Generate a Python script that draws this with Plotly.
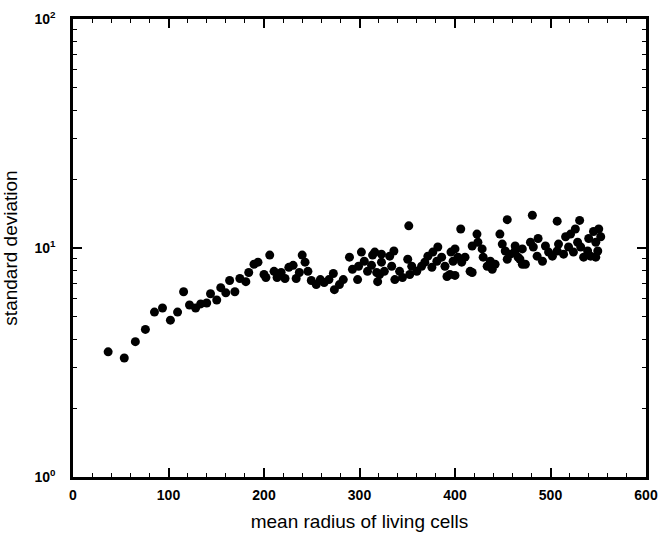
import plotly.graph_objects as go

# mean radius of living cells (x) and standard deviation (y)
radius = [
    36.8, 53.7, 65.3, 75.8, 85.3, 93.7, 102, 109.5, 115.8, 122, 128.4, 133.7, 140, 144, 150.5,
    154.7, 160, 164, 169.5, 174.7,
    181, 184, 189.5, 193.7, 200, 202, 206, 210.5, 213.7, 218, 222, 226, 230.5, 233.7, 237, 240,
    243, 246, 249.5, 254.7, 259, 263, 268, 272.6, 273.7, 279, 283, 289.5, 292.6, 298, 299, 302,
    305, 308.4, 313.7, 312.6, 318, 323, 319,
    351.6, 406, 454.7, 316, 323, 326, 321, 331.6, 336, 333.7, 337, 342, 345, 350.5, 354.7, 352.6,
    360, 365, 368.4, 371.6, 376.8, 382, 375.8, 381, 386, 389.5, 391.6, 395.8, 400, 398, 403, 407,
    410.5, 415.8, 418, 400, 394.7, 418, 423, 424, 428.4, 429.5, 433.7, 439, 437, 442, 447, 449.5,
    452.6, 454.7, 458, 463, 466, 470.5, 470.5,
    481, 507, 530.5, 463, 468, 473.7, 479, 482, 487, 486, 491.6, 494.7, 498, 502, 507, 508.4,
    513.7, 515.8, 518.9, 521, 524, 526, 528.4, 531.6, 534.7, 538.9, 540, 542, 545, 547.4, 549.5,
    550.5, 552.6, 547.4,
]
std_dev = [
    3.52, 3.31, 3.90, 4.41, 5.25, 5.47, 4.84, 5.25, 6.44, 5.64, 5.47, 5.70, 5.75, 6.31, 5.93,
    6.71, 6.37, 7.21, 6.44, 7.36,
    7.13, 7.82, 8.49, 8.67, 7.66, 7.43, 9.31, 7.91, 7.43, 7.82, 7.36, 8.23, 8.40, 7.36, 7.82, 9.31,
    8.67, 7.91, 7.21, 6.92, 7.28, 7.06, 7.28, 7.74, 6.58, 6.92, 7.28, 9.12, 8.07, 7.28, 8.32, 9.60,
    8.75, 7.91, 9.31, 8.40, 7.82, 9.40, 7.13,
    12.5, 12.1, 13.3, 9.60, 8.67, 7.91, 7.66, 9.21, 9.70, 8.32, 7.28, 7.91, 7.43, 8.93, 8.32, 7.66,
    7.91, 8.32, 8.67, 9.21, 9.60, 10.1, 8.24, 8.75, 9.12, 8.32, 7.51, 9.60, 9.91, 8.75, 9.12, 8.67,
    9.12, 7.91, 7.82, 7.59, 7.66, 10.2, 11.5, 10.6, 9.91, 9.12, 8.32, 8.07, 8.75, 8.49, 11.5, 10.4,
    9.70, 8.93, 9.40, 10.2, 9.12, 8.49, 9.91,
    13.9, 13.1, 13.2, 9.70, 8.93, 8.49, 10.6, 10.1, 11.0, 9.21, 8.75, 10.2, 9.60, 9.21, 9.70, 10.4,
    9.40, 11.2, 10.1, 11.5, 9.60, 12.1, 10.6, 10.1, 9.12, 9.70, 11.0, 9.21, 11.8, 10.6, 9.70,
    12.1, 11.2, 9.12,
]

x_ticks = [0, 100, 200, 300, 400, 500, 600]
y_ticks = [1, 10, 100]
y_tick_labels = ["10<sup>0</sup>", "10<sup>1</sup>", "10<sup>2</sup>"]
y_minor = [2, 3, 4, 5, 6, 7, 8, 9, 20, 30, 40, 50, 60, 70, 80, 90]

fig = go.Figure(
    go.Scatter(
        x=radius, y=std_dev, mode="markers",
        marker=dict(color="black", size=9, line=dict(width=0)),
        showlegend=False,
    )
)

font = dict(family="Liberation Sans, Arial, sans-serif", color="#000000")

fig.update_layout(
    template="none",
    width=658, height=537,
    margin=dict(l=73, r=12, t=19, b=60),
    paper_bgcolor="white", plot_bgcolor="white",
    font=dict(**font, size=14),
)

fig.update_xaxes(
    range=[0, 600], tickvals=x_ticks, ticks="inside", ticklen=9, tickwidth=1.5,
    tickcolor="black", showline=True, linecolor="black", linewidth=2.5,
    mirror="allticks", showgrid=False, zeroline=False, automargin=False,
    minor=dict(dtick=20, ticks="inside", ticklen=4, tickwidth=1.2, tickcolor="black", showgrid=False),
    tickfont=dict(**font, size=14, weight="bold"), ticklabelstandoff=3,
    ticklabeloverflow="allow",
    title=dict(text="mean radius of living cells", font=dict(**font, size=19), standoff=14),
)
fig.update_yaxes(
    type="log", range=[0, 2], tickvals=y_ticks, ticktext=y_tick_labels,
    ticks="inside", ticklen=9, tickwidth=1.5, tickcolor="black",
    showline=True, linecolor="black", linewidth=2.5, mirror="allticks",
    showgrid=False, zeroline=False, automargin=False,
    minor=dict(tickvals=y_minor, ticks="inside", ticklen=4, tickwidth=1.2, tickcolor="black", showgrid=False),
    tickfont=dict(**font, size=14, weight="bold"), ticklabelstandoff=12,
    ticklabeloverflow="allow",
    title=dict(text="standard deviation", font=dict(**font, size=19), standoff=26),
)

# remove the default 8px page margin so the figure fills the window exactly
fig.write_html(
    "out.html",
    config={"displayModeBar": False},
    post_script="document.body.style.margin='0px';document.body.style.overflow='hidden';",
)
